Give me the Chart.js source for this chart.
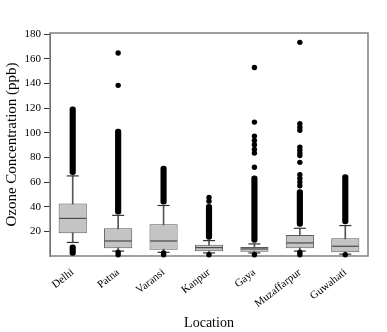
<!DOCTYPE html>
<html>
<head>
<meta charset="utf-8">
<script src="https://cdn.jsdelivr.net/npm/chart.js@4/dist/chart.umd.min.js"></script>
<style>
  html, body { margin: 0; padding: 0; background: #fff; }
  canvas { display: block; }
</style>
</head>
<body>
<canvas id="chart" width="387" height="332"></canvas>
<script>
// Ozone concentration (ppb) by location – box plot summary values
const locations   = ['Delhi', 'Patna', 'Varansi', 'Kanpur', 'Gaya', 'Muzaffarpur', 'Guwahati'];
const whiskerLow  = [11,   4,    3,    2.5,  2.5,  4,    1.5];
const q1          = [18.5, 6.2,  5.1,  3.8,  3.5,  6.2,  3];
const median      = [30.5, 12.2, 12.2, 6.8,  5.7,  10.6, 7.9];
const q3          = [42.7, 22.5, 25.7, 9.2,  7.3,  17.1, 14.4];
const whiskerHigh = [65,   33,   41,   12.5, 9.8,  22.5, 24.7];

// Ranges packed so densely with outliers that they form a solid column
const upperOutlierRange = [[66, 121], [34, 103], [42, 73], [13.5, 42], [11, 65], [24, 54], [26, 66]];
const lowerOutlierRange = [[0.5, 9], null, null, null, null, null, null];

// Individual outliers
const outlierPatna       = [1, 3, 138.5, 164.8];
const outlierVaransi     = [1, 2.5];
const outlierKanpur      = [1, 44.5, 47.5];
const outlierGaya        = [1, 72, 83.5, 86.5, 90.3, 93.8, 97.3, 108.7, 153];
const outlierMuzaffarpur = [1, 3, 57, 60, 63, 66, 76, 81.5, 83.5, 86, 88.4, 102, 104.6, 107.3, 173.4];
const outlierGuwahati    = [1];

const yTicks = [20, 40, 60, 80, 100, 120, 140, 160, 180];

const outlierPoints = [].concat(
  outlierPatna.map(v => ({ x: 'Patna', y: v })),
  outlierVaransi.map(v => ({ x: 'Varansi', y: v })),
  outlierKanpur.map(v => ({ x: 'Kanpur', y: v })),
  outlierGaya.map(v => ({ x: 'Gaya', y: v })),
  outlierMuzaffarpur.map(v => ({ x: 'Muzaffarpur', y: v })),
  outlierGuwahati.map(v => ({ x: 'Guwahati', y: v }))
);

const serif = "'Liberation Serif', 'DejaVu Serif', serif";

// Grey frame around the plotting area
const framePlugin = {
  id: 'frame',
  beforeDatasetsDraw(chart) {
    const a = chart.chartArea, ctx = chart.ctx;
    ctx.save();
    ctx.strokeStyle = '#808080';
    ctx.lineWidth = 1.5;
    ctx.strokeRect(a.left, a.top, a.right - a.left, a.bottom - a.top);
    ctx.restore();
  }
};

new Chart(document.getElementById('chart'), {
  data: {
    labels: locations,
    datasets: [
      { // whisker stems
        type: 'bar', order: 7, grouped: false, clip: false,
        data: locations.map((_, i) => [whiskerLow[i], whiskerHigh[i]]),
        backgroundColor: '#555555', barThickness: 1
      },
      { // dense outlier columns above the whiskers
        type: 'bar', order: 6, grouped: false, clip: false,
        data: upperOutlierRange,
        backgroundColor: '#000000', barThickness: 5.5,
        borderRadius: 3, borderSkipped: false
      },
      { // dense outlier columns below the whiskers
        type: 'bar', order: 6, grouped: false, clip: false,
        data: lowerOutlierRange,
        backgroundColor: '#000000', barThickness: 5.5,
        borderRadius: 3, borderSkipped: false
      },
      { // interquartile boxes
        type: 'bar', order: 5, grouped: false, clip: false,
        data: locations.map((_, i) => [q1[i], q3[i]]),
        backgroundColor: '#c4c4c4', borderColor: '#5a5a5a', borderWidth: 1,
        borderSkipped: false, barPercentage: 0.62, categoryPercentage: 1
      },
      { // medians
        type: 'line', order: 4, showLine: false, clip: false,
        data: median,
        pointStyle: 'line', pointRadius: 13.5, pointBorderColor: '#4a4a4a', pointBorderWidth: 1.2
      },
      { // whisker caps
        type: 'line', order: 3, showLine: false, clip: false,
        data: whiskerHigh,
        pointStyle: 'line', pointRadius: 6, pointBorderColor: '#333333', pointBorderWidth: 1.2
      },
      {
        type: 'line', order: 3, showLine: false, clip: false,
        data: whiskerLow,
        pointStyle: 'line', pointRadius: 6, pointBorderColor: '#333333', pointBorderWidth: 1.2
      },
      { // individual outliers
        type: 'line', order: 1, showLine: false, clip: false,
        data: outlierPoints,
        pointStyle: 'circle', pointRadius: 2.7,
        pointBackgroundColor: '#000000', pointBorderColor: '#000000', pointBorderWidth: 0
      }
    ]
  },
  options: {
    responsive: false,
    animation: false,
    devicePixelRatio: 1,
    events: [],
    layout: { padding: { top: 33, right: 19, left: 0, bottom: 0 } },
    plugins: { legend: { display: false }, tooltip: { enabled: false } },
    scales: {
      x: {
        type: 'category',
        offset: true,
        grid: { display: false },
        border: { display: false },
        ticks: {
          color: '#000', font: { family: serif, size: 11 },
          minRotation: 38, maxRotation: 38, padding: 2, autoSkip: false
        },
        title: {
          display: true, text: 'Location', color: '#000',
          font: { family: serif, size: 14, lineHeight: 1.2 },
          padding: { top: 2, bottom: 0 }
        },
        afterFit(scale) { scale.height = 76; }
      },
      y: {
        type: 'linear',
        min: 0, max: 181,
        grid: { drawOnChartArea: false, tickLength: 6, color: '#333', lineWidth: 1 },
        border: { display: true, color: '#404040', width: 1 },
        afterBuildTicks(scale) { scale.ticks = yTicks.map(v => ({ value: v })); },
        ticks: {
          color: '#000', font: { family: serif, size: 11 }, padding: 3
        },
        title: {
          display: true, text: 'Ozone Concentration (ppb)', color: '#000',
          font: { family: serif, size: 15, lineHeight: 1.2 },
          padding: { top: 3, bottom: 0 }
        },
        afterFit(scale) { scale.width = 50; }
      }
    }
  },
  plugins: [framePlugin]
});
</script>
</body>
</html>
